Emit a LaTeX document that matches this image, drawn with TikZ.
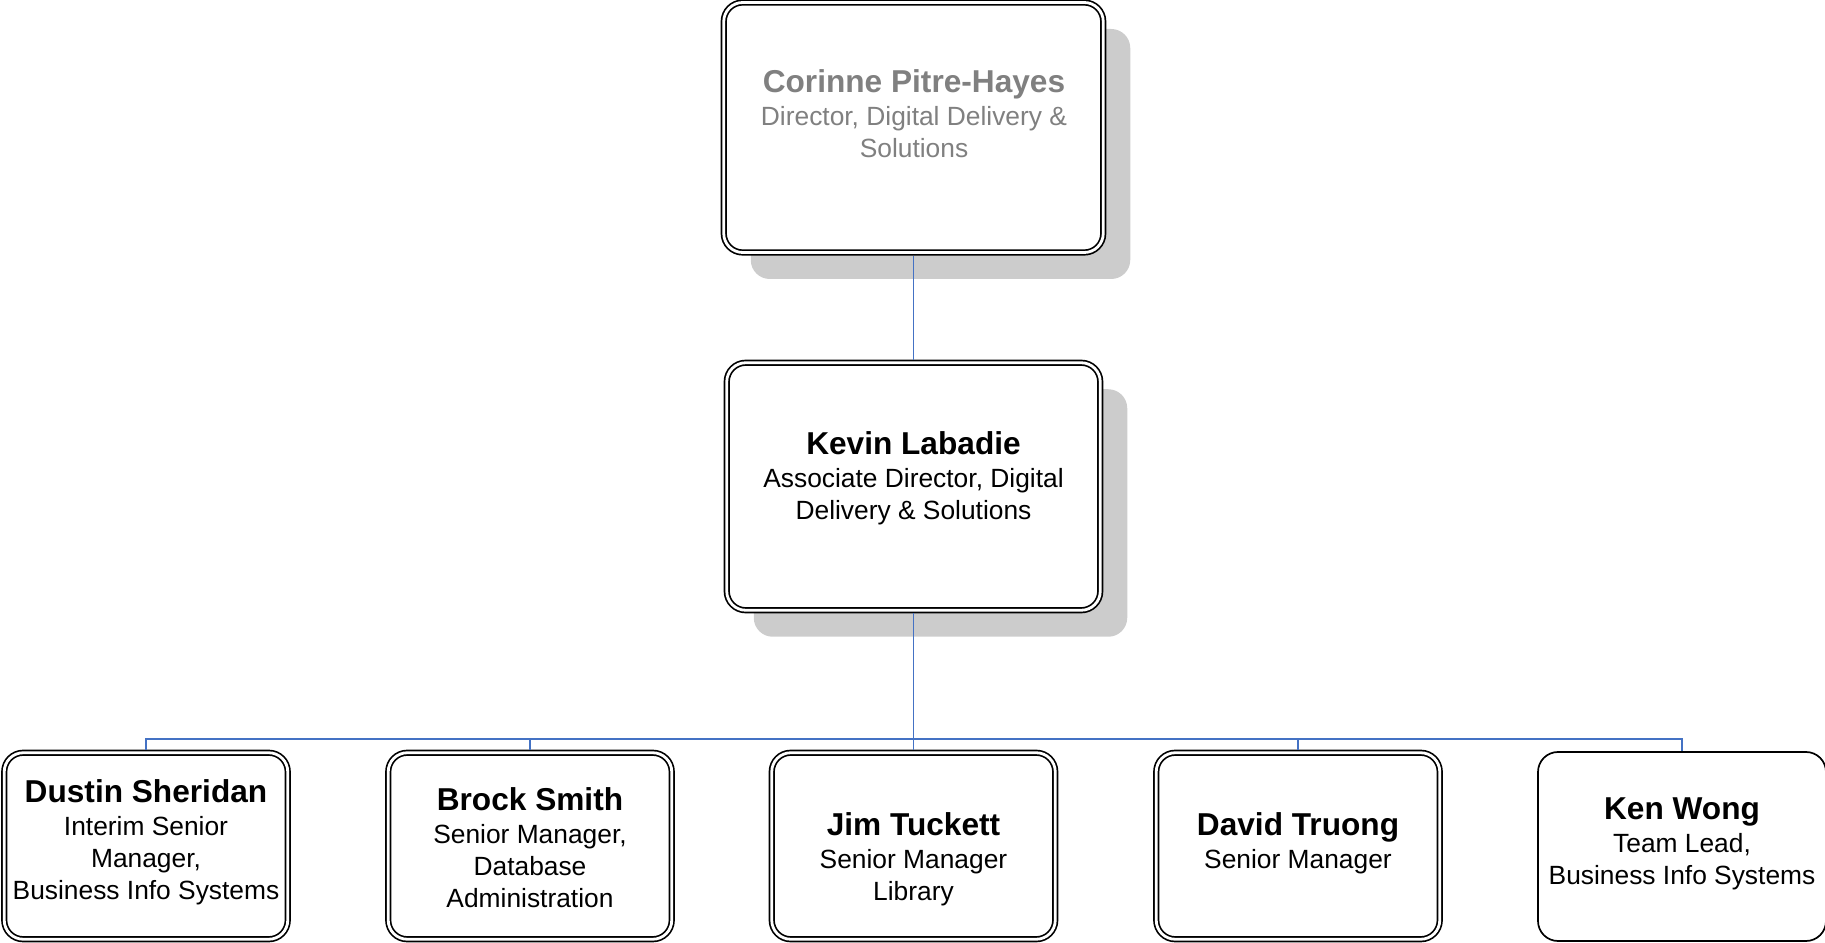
\documentclass[tikz,border=0pt]{standalone}
\usepackage{fontspec}
\setmainfont{Liberation Sans}
\usetikzlibrary{shadows,calc}
\definecolor{4472c4}{HTML}{4472C4}
\definecolor{808080}{HTML}{808080}
\newcommand*{\nm}[1]{{\fontsize{18}{20}\selectfont\bfseries\strut#1}}
\tikzset{
    staff/.style={draw,double,double distance=.056cm,line width=.034cm,rounded corners=.38cm,fill=white,inner sep=0,outer sep=.062cm},
    head/.style={staff,general shadow={fill=black!20,shadow xshift=.54cm,shadow yshift=-.53cm}},
    lead/.style={draw,line width=.034cm,rounded corners=.4cm,fill=white,inner sep=0,outer sep=.017cm},
    blurb/.style={align=center,anchor=north,inner sep=0,font=\fontsize{15}{18}\selectfont},
    link/.style={draw=4472c4,line width=.026cm}
}
\begin{document}
\begin{tikzpicture}[>=latex]
    \newcommand{\BW}{5.67}
    \newcommand{\BH}{3.73}
    \newcommand{\BY}{-16.92}
    \useasboundingbox(0,0)rectangle(36.5,-18.86);
    \node[head,minimum width=7.59cm,minimum height=5cm](corinne)at(18.27,-2.55){};
    \node[head,minimum width=7.47cm,minimum height=4.95cm](kevin)at(18.27,-9.73){};
    \node[staff,minimum width=\BW cm,minimum height=\BH cm](dustin)at(2.92,\BY){};
    \node[staff,minimum width=\BW cm,minimum height=\BH cm](brock)at(10.6,\BY){};
    \node[staff,minimum width=\BW cm,minimum height=\BH cm](jim)at(18.27,\BY){};
    \node[staff,minimum width=\BW cm,minimum height=\BH cm](david)at(25.96,\BY){};
    \node[lead,minimum width=5.76cm,minimum height=3.78cm](ken)at(33.64,-16.93){};
    \node[blurb,text=808080](corinne-t)at(18.28,-1.348){\nm{Corinne Pitre-Hayes}\\[1pt]Director, Digital Delivery \&\\Solutions};
    \node[blurb](kevin-t)at(18.27,-8.588){\nm{Kevin Labadie}\\[1pt]Associate Director, Digital\\Delivery \& Solutions};
    \node[blurb](dustin-t)at(2.92,-15.548){\nm{Dustin Sheridan}\\[1pt]Interim Senior\\Manager,\\Business Info Systems};
    \node[blurb](brock-t)at(10.6,-15.708){\nm{Brock Smith}\\[1pt]Senior Manager,\\Database\\Administration};
    \node[blurb](jim-t)at(18.27,-16.208){\nm{Jim Tuckett}\\[1pt]Senior Manager\\Library};
    \node[blurb](david-t)at(25.96,-16.208){\nm{David Truong}\\[1pt]Senior Manager};
    \node[blurb](ken-t)at(33.64,-15.888){\nm{Ken Wong}\\[1pt]Team Lead,\\Business Info Systems};
    % reporting lines
    \coordinate(bus)at(18.27,-14.78);
    \draw[link](corinne.south)--(kevin.north);
    \draw[link](kevin.south)--(bus);
    \draw[link](bus)-|(dustin.north);
    \draw[link](bus)-|(brock.north);
    \draw[link](bus)--(jim.north);
    \draw[link](bus)-|(david.north);
    \draw[link](bus)-|(ken.north);
\end{tikzpicture}
\end{document}
